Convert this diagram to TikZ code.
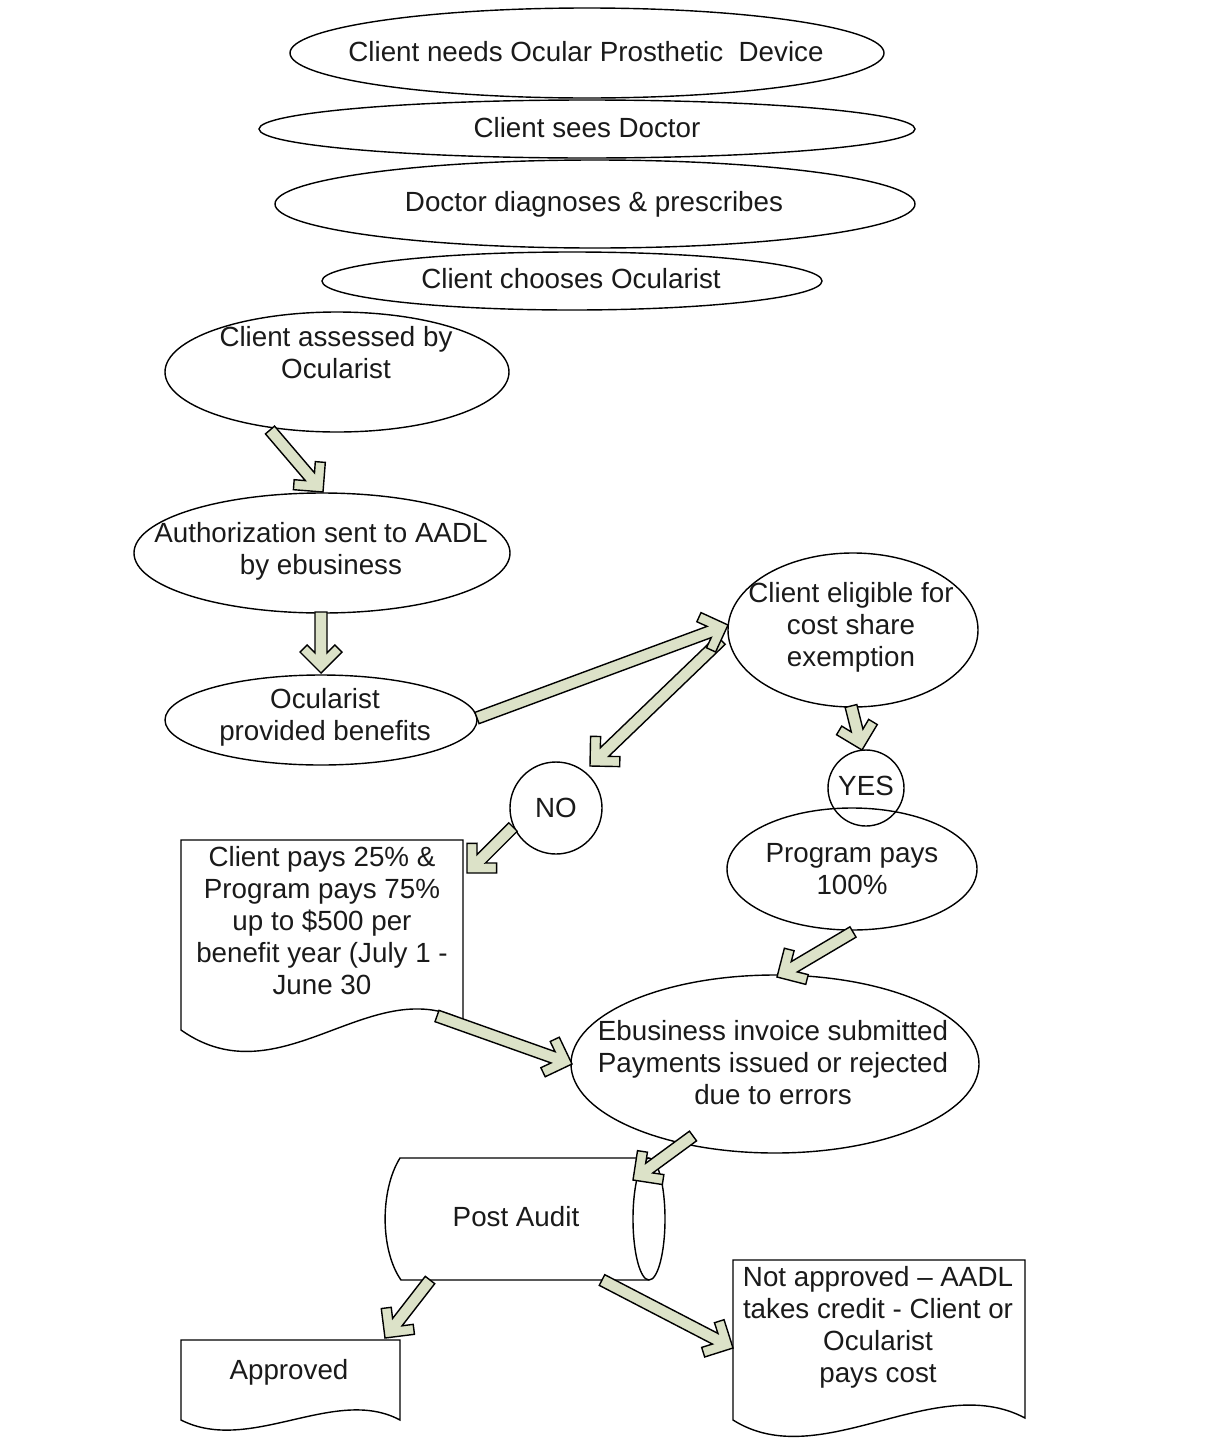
\documentclass[tikz,border=0pt]{standalone}
\usepackage{fontspec}
\setmainfont{Liberation Sans}
\usetikzlibrary{shapes.geometric,calc}
\definecolor{afill}{HTML}{DCE2C8}
\definecolor{tcol}{HTML}{1A1A1A}
\newcommand\blockarrow[2]{%
 \draw[barrow] ($(#1)!0.12cm!90:(#2)$) -- ($(#2)!0.402cm!(#1)!0.12cm!-90:(#1)$) -- ($(#2)!0.562cm!(#1)!0.278cm!-90:(#1)$) -- ($(#2)!0.42cm!(#1)!0.42cm!-90:(#1)$) -- (#2) -- ($(#2)!0.42cm!(#1)!0.42cm!90:(#1)$) -- ($(#2)!0.562cm!(#1)!0.278cm!90:(#1)$) -- ($(#2)!0.402cm!(#1)!0.12cm!90:(#1)$) -- ($(#1)!0.12cm!-90:(#2)$) -- cycle;}
\begin{document}
\begin{tikzpicture}[x=0.02cm,y=-0.02cm,
  oval/.style={ellipse,draw,line width=0.8pt,inner sep=0pt},
  round/.style={circle,draw,line width=0.8pt,inner sep=0pt},
  sz/.style 2 args={minimum width=#1*0.02cm,minimum height=#2*0.02cm},
  txt/.style={font=\fontsize{15.8}{18.2}\selectfont,align=center,text=tcol,inner sep=0pt},
  barrow/.style={draw=black,fill=afill,line width=0.8pt,line join=miter},
  outline/.style={draw,line width=0.8pt},
  box/.style={rectangle,draw=none,inner sep=0pt}]
\useasboundingbox (0,0) rectangle (1204,1447);

% ellipses
\node[oval,sz={594}{90}] (e1) at (587,53) {};
\node[txt] (t1) at (586,52) {Client needs Ocular Prosthetic\ \ Device};
\node[oval,sz={656}{58}] (e2) at (587,129) {};
\node[txt] (t2) at (587,128) {Client sees Doctor};
\node[oval,sz={640}{88}] (e3) at (595,204) {};
\node[txt] (t3) at (594,204) {Doctor diagnoses \& prescribes};
\node[oval,sz={500}{58}] (e4) at (572,281) {};
\node[txt] (t4) at (571,279) {Client chooses Ocularist};
\node[oval,sz={344}{120}] (e5) at (337,372) {};
\node[txt] (t5) at (336,353) {Client assessed by\\Ocularist};
\node[oval,sz={376}{120}] (e6) at (322,553) {};
\node[txt] (t6) at (321,551) {Authorization sent to AADL\\by ebusiness};
\node[oval,sz={312}{90}] (e7) at (321,720) {};
\node[txt] (t7) at (325,717) {Ocularist\\provided benefits};
\node[oval,sz={250}{154}] (e8) at (853,630) {};
\node[txt] (t8) at (851,627) {Client eligible for\\cost share\\exemption};
\node[round,minimum size=92*0.02cm] (no) at (556,808) {};
\node[txt] (tno) at (556,808) {NO};
\node[round,minimum size=76*0.02cm] (yes) at (866,788) {};
\node[txt] (tyes) at (866,786) {YES};
\node[oval,sz={250}{122}] (e9) at (852,869) {};
\node[txt] (t9) at (852,869) {Program pays\\100\%};
\node[oval,sz={408}{178}] (e10) at (775,1064) {};
\node[txt] (t10) at (773,1063) {Ebusiness invoice submitted\\Payments issued or rejected\\due to errors};

% document shapes
\draw[outline] (181,840) -- (463,840) -- (463,1020) .. controls (370,972) and (280,1100) .. (181,1030) -- cycle;
\node[box,sz={282}{212}] (d1) at (322,946) {};
\node[txt] (td1) at (322,921) {Client pays 25\% \&\\Program pays 75\%\\up to \$500 per\\benefit year (July 1 -\\June 30};
\draw[outline] (181,1340) -- (400,1340) -- (400,1420) .. controls (335,1385) and (250,1455) .. (181,1420) -- cycle;
\node[box,sz={219}{80}] (d2) at (290,1380) {};
\node[txt] (td2) at (289,1372) {Approved};
\draw[outline] (733,1260) -- (1025,1260) -- (1025,1418) .. controls (935,1370) and (820,1475) .. (733,1420) -- cycle;
\node[box,sz={292}{160}] (d3) at (879,1340) {};
\node[txt] (td3) at (878,1327) {Not approved – AADL\\takes credit - Client or\\Ocularist\\pays cost};

% cylinder
\draw[outline] (649,1158) -- (400,1158) .. controls (380,1190) and (380,1250) .. (401,1280) -- (649,1280);
\draw[outline] (649,1219) ellipse [x radius=16, y radius=61];
\node[box,sz={280}{122}] (pa) at (525,1219) {};
\node[txt] (tpa) at (516,1217) {Post Audit};

% arrow end points
\coordinate (a1s) at ($(e5)+(-67,58)$);  \coordinate (a1e) at ($(e6)+(1,-61)$);
\coordinate (a2s) at ($(e6)+(-1,59)$);   \coordinate (a2e) at ($(e7)+(0,-47)$);
\coordinate (a3s) at ($(e7)+(156,-2)$);  \coordinate (a3e) at ($(e8)+(-125,-5)$);
\coordinate (a4s) at ($(e8)+(-132,10)$); \coordinate (a4e) at ($(no)+(34,-42)$);
\coordinate (a5s) at ($(e8)+(-2,76)$);   \coordinate (a5e) at ($(yes)+(-4,-38)$);
\coordinate (a6s) at ($(no)+(-43,19)$);  \coordinate (a6e) at ($(d1)+(145,-73)$);
\coordinate (a7s) at ($(e9)+(1,63)$);    \coordinate (a7e) at ($(e10)+(2,-87)$);
\coordinate (a8s) at ($(d1)+(115,70)$);  \coordinate (a8e) at ($(e10)+(-203,0)$);
\coordinate (a9s) at ($(e10)+(-82,72)$); \coordinate (a9e) at ($(pa)+(108,-39)$);
\coordinate (a10s) at ($(pa)+(-95,61)$); \coordinate (a10e) at ($(d2)+(95,-42)$);
\coordinate (a11s) at ($(pa)+(77,61)$);  \coordinate (a11e) at ($(d3)+(-146,8)$);

\blockarrow{a1s}{a1e}
\blockarrow{a2s}{a2e}
\blockarrow{a4s}{a4e}
\blockarrow{a3s}{a3e}
\blockarrow{a5s}{a5e}
\blockarrow{a6s}{a6e}
\blockarrow{a7s}{a7e}
\blockarrow{a8s}{a8e}
\blockarrow{a9s}{a9e}
\blockarrow{a10s}{a10e}
\blockarrow{a11s}{a11e}
\end{tikzpicture}
\end{document}
